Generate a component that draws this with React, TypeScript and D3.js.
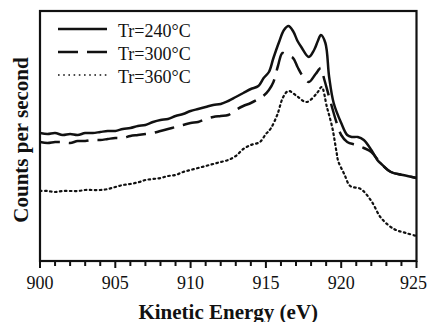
import React from "react";
import * as d3 from "d3";

// Kinetic energy grid (eV) and intensity (counts per second, arbitrary scale) for each reduction temperature
const energy240 = [900.0, 900.5, 901.0, 901.5, 902.0, 902.5, 903.0, 903.5, 904.0, 904.5, 905.0, 905.5, 906.0, 906.5, 907.0, 907.5, 908.0, 908.5, 909.0, 909.5, 910.0, 910.5, 911.0, 911.5, 912.0, 912.5, 913.0, 913.5, 914.0, 914.5, 914.85, 915.2, 915.5, 915.85, 916.2, 916.5, 916.8, 917.1, 917.35, 917.85, 918.2, 918.45, 918.65, 918.95, 919.2, 919.5, 920.0, 920.4, 920.7, 921.1, 921.5, 922.0, 922.4, 922.6, 923.3, 924.1, 925.0];
const counts240 = [128, 127, 128, 126, 127, 126, 128, 128, 129, 130, 130, 132, 133, 135, 136, 139, 141, 142, 145, 147, 150, 152, 154, 156, 157, 160, 164, 168, 172, 175, 183, 189, 203, 218, 231, 235, 230, 220, 214, 204, 211, 220, 226, 218, 184, 158, 138, 126, 124, 124, 121, 111, 101, 98, 89, 86, 83];

const energy300 = [900.0, 900.5, 901.0, 901.5, 902.0, 902.5, 903.0, 903.5, 904.0, 904.5, 905.0, 905.5, 906.0, 906.5, 907.0, 907.5, 908.0, 908.5, 909.0, 909.5, 910.0, 910.5, 911.0, 911.5, 912.0, 912.5, 913.0, 913.5, 914.0, 914.5, 914.9, 915.2, 915.5, 915.8, 916.1, 916.4, 916.8, 917.1, 917.4, 917.85, 918.3, 918.65, 918.85, 919.2, 919.7, 920.0, 920.4, 921.0, 921.5, 922.0, 922.6, 923.3, 924.1, 925.0];
const counts300 = [119, 118, 119, 119, 118, 120, 120, 121, 121, 122, 123, 123, 125, 126, 127, 128, 130, 132, 134, 136, 138, 139, 142, 144, 145, 146, 151, 155, 158, 162, 166, 171, 179, 195, 208, 206, 203, 194, 186, 179, 187, 193, 183, 164, 138, 126, 119, 116, 113, 109, 98, 89, 86, 83];

const energy360 = [900.0, 900.5, 901.0, 901.5, 902.0, 902.5, 903.0, 903.5, 904.0, 904.5, 905.0, 905.5, 906.0, 906.6, 907.0, 907.5, 908.0, 908.5, 909.0, 909.5, 910.0, 910.5, 911.0, 911.5, 912.0, 912.5, 913.0, 913.5, 914.0, 914.6, 915.0, 915.3, 915.75, 916.15, 916.5, 917.05, 917.7, 918.4, 918.7, 919.05, 919.4, 919.7, 919.8, 920.2, 920.6, 921.3, 922.0, 922.65, 923.5, 924.3, 925.0];
const counts360 = [70, 70, 69, 70, 70, 70, 71, 71, 71, 72, 74, 76, 77, 79, 81, 82, 83, 85, 86, 89, 91, 93, 95, 97, 99, 101, 105, 112, 116, 119, 127, 132, 146, 164, 170, 165, 159, 168, 174, 154, 134, 108, 100, 87, 75, 72, 60, 43, 32, 28, 25];

const seriesLabels = ["Tr=240\u00B0C", "Tr=300\u00B0C", "Tr=360\u00B0C"];
const xTicks = [900, 905, 910, 915, 920, 925];
const xLabel = "Kinetic Energy (eV)";
const yLabel = "Counts per second";

const W = 428;
const H = 322;
const plot = { left: 40, top: 11, right: 416.5, bottom: 261 };
const FONT = "'Liberation Serif', 'Times New Roman', serif";

const dashStyles = ["none", "20 9", "1.6 3.4"];
const lineWidths = [2.5, 2.5, 2.2];

export default function App() {
  const x = d3.scaleLinear().domain([900, 925]).range([plot.left, plot.right]);
  const y = d3.scaleLinear().domain([0, 250]).range([plot.bottom, plot.top]);

  const series = [
    energy240.map((e, i) => [e, counts240[i]] as [number, number]),
    energy300.map((e, i) => [e, counts300[i]] as [number, number]),
    energy360.map((e, i) => [e, counts360[i]] as [number, number]),
  ];

  const line = d3
    .line<[number, number]>()
    .x((d) => x(d[0]))
    .y((d) => y(d[1]))
    .curve(d3.curveCatmullRom.alpha(0.5));

  const minorTicks = d3.range(900, 926, 1);

  const legendY = [29, 52, 75];

  return (
    <svg
      width={W}
      height={H}
      style={{ position: "absolute", left: 0, top: 0, background: "#fff" }}
      fontFamily={FONT}
    >
      <defs>
        <clipPath id="plot-clip">
          <rect x={plot.left} y={plot.top} width={plot.right - plot.left} height={plot.bottom - plot.top} />
        </clipPath>
      </defs>

      {/* spectra */}
      <g clipPath="url(#plot-clip)">
        {series.map((s, i) => (
          <path
            key={i}
            d={line(s) ?? ""}
            fill="none"
            stroke="#111"
            strokeWidth={lineWidths[i]}
            strokeDasharray={dashStyles[i]}
            strokeLinecap={i === 2 ? "round" : "butt"}
            strokeLinejoin="round"
          />
        ))}
      </g>

      {/* frame */}
      <rect
        x={plot.left}
        y={plot.top}
        width={plot.right - plot.left}
        height={plot.bottom - plot.top}
        fill="none"
        stroke="#111"
        strokeWidth={2.2}
      />

      {/* x ticks */}
      {minorTicks.map((t) => {
        const major = t % 5 === 0;
        return (
          <line
            key={t}
            x1={x(t)}
            x2={x(t)}
            y1={plot.bottom}
            y2={plot.bottom + (major ? 7 : 5)}
            stroke="#111"
            strokeWidth={2}
          />
        );
      })}
      {xTicks.map((t, i) => (
        <text
          key={t}
          x={i === xTicks.length - 1 ? W - 1 : x(t)}
          y={289}
          textAnchor={i === xTicks.length - 1 ? "end" : "middle"}
          fontSize={18}
          fill="#111"
        >
          {t}
        </text>
      ))}

      {/* axis titles */}
      <text x={(plot.left + plot.right) / 2} y={319} textAnchor="middle" fontSize={21} fontWeight="bold" fill="#111">
        {xLabel}
      </text>
      <text
        transform={`translate(28, ${(plot.top + plot.bottom) / 2 + 4}) rotate(-90)`}
        textAnchor="middle"
        fontSize={21}
        fontWeight="bold"
        fill="#111"
      >
        {yLabel}
      </text>

      {/* legend */}
      {seriesLabels.map((label, i) => (
        <g key={label}>
          <line
            x1={58}
            x2={107}
            y1={legendY[i]}
            y2={legendY[i]}
            stroke="#111"
            strokeWidth={i === 2 ? 1.6 : 2.5}
            strokeDasharray={i === 1 ? "20 9" : i === 2 ? "1.6 3.6" : "none"}
          />
          <text x={118} y={legendY[i] + 8} fontSize={18} fill="#111">
            {label}
          </text>
        </g>
      ))}
    </svg>
  );
}
